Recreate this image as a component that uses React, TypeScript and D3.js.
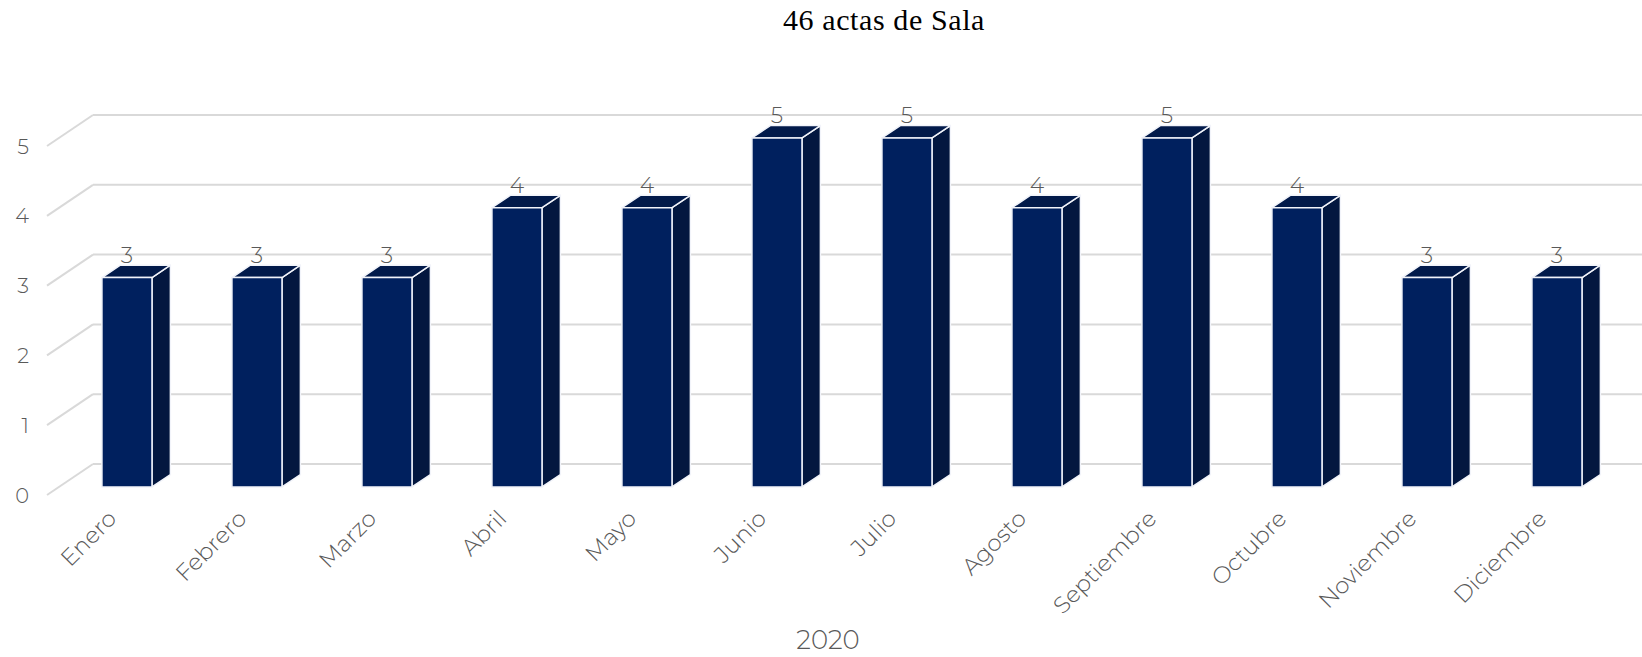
import { useRef, useEffect } from 'react';
import * as d3 from 'd3';

const MONTHS = ['Enero', 'Febrero', 'Marzo', 'Abril', 'Mayo', 'Junio', 'Julio', 'Agosto', 'Septiembre', 'Octubre', 'Noviembre', 'Diciembre'];
const ACTAS = [3, 3, 3, 4, 4, 5, 5, 4, 5, 4, 3, 3];
const Y_TICKS = [0, 1, 2, 3, 4, 5];
const TITLE = '46 actas de Sala';
const X_TITLE = '2020';

const W = 1642;
const H = 657;
// full floor depth offset (front plane -> back wall)
const DX = 46;
const DY = 31;
// bar sits between these depth fractions
const D_FRONT = 0.26;
const D_BACK = 0.66;

const FONT = "Montserrat, 'Open Sans', Lato, sans-serif";

export default function App() {
  const ref = useRef<SVGSVGElement | null>(null);

  useEffect(() => {
    const svg = d3.select(ref.current);
    svg.selectAll('*').remove();

    const x = d3.scaleBand<string>().domain(MONTHS).range([50, 1610]).paddingInner(0.615).paddingOuter(0.3075);
    const y = d3.scaleLinear().domain([0, 5]).range([495, 146]);

    const frontX = 47;
    const backX = frontX + DX;

    // Title
    svg.append('text')
      .attr('x', 884).attr('y', 30)
      .attr('text-anchor', 'middle')
      .attr('font-family', "'Liberation Serif', 'DejaVu Serif', serif")
      .attr('font-size', 30).attr('letter-spacing', 0.6).attr('fill', '#000')
      .text(TITLE);

    // Back wall gridlines + floor diagonals
    const grid = svg.append('g').attr('stroke', '#d9d9d9').attr('stroke-width', 2).attr('fill', 'none');
    grid.selectAll('line.h').data(Y_TICKS).join('line').attr('class', 'h')
      .attr('x1', backX).attr('x2', W)
      .attr('y1', d => y(d) - DY).attr('y2', d => y(d) - DY);
    grid.selectAll('line.d').data(Y_TICKS).join('line').attr('class', 'd')
      .attr('x1', frontX).attr('x2', backX)
      .attr('y1', d => y(d)).attr('y2', d => y(d) - DY);

    // Y tick labels
    svg.append('g').selectAll('text').data(Y_TICKS).join('text')
      .attr('x', 29).attr('y', d => y(d)).attr('dy', '0.36em')
      .attr('text-anchor', 'end')
      .attr('font-family', FONT).attr('font-weight', 300)
      .attr('font-size', 21).attr('fill', '#595959')
      .text(d => d);

    // Bars
    const ddx = (D_BACK - D_FRONT) * DX;
    const ddy = (D_BACK - D_FRONT) * DY;
    const bars = MONTHS.map((m, i) => {
      const x0 = (x(m) as number) + D_FRONT * DX;
      const x1 = x0 + x.bandwidth();
      const yb = y(0) - D_FRONT * DY;
      const yt = y(ACTAS[i]) - D_FRONT * DY;
      return { m, v: ACTAS[i], x0, x1, yb, yt };
    });

    const bg = svg.append('g').attr('stroke', '#f2f4fa').attr('stroke-width', 1.5).attr('stroke-linejoin', 'round');
    bg.selectAll('path.side').data(bars).join('path').attr('class', 'side')
      .attr('fill', '#03173f')
      .attr('d', d => `M${d.x1},${d.yt}L${d.x1 + ddx},${d.yt - ddy}L${d.x1 + ddx},${d.yb - ddy}L${d.x1},${d.yb}Z`);
    bg.selectAll('path.top').data(bars).join('path').attr('class', 'top')
      .attr('fill', '#021a4a')
      .attr('d', d => `M${d.x0},${d.yt}L${d.x0 + ddx},${d.yt - ddy}L${d.x1 + ddx},${d.yt - ddy}L${d.x1},${d.yt}Z`);
    bg.selectAll('rect').data(bars).join('rect')
      .attr('fill', '#00205e')
      .attr('x', d => d.x0).attr('y', d => d.yt)
      .attr('width', d => d.x1 - d.x0).attr('height', d => d.yb - d.yt);

    // Value labels
    svg.append('g').selectAll('text').data(bars).join('text')
      .attr('x', d => (d.x0 + d.x1) / 2).attr('y', d => d.yt - 15)
      .attr('text-anchor', 'middle')
      .attr('font-family', FONT).attr('font-weight', 300)
      .attr('font-size', 22).attr('fill', '#595959')
      .text(d => d.v);

    // Category labels
    svg.append('g').selectAll('text').data(bars).join('text')
      .attr('transform', d => `translate(${(d.x0 + d.x1) / 2 - 9},${520}) rotate(-45)`)
      .attr('text-anchor', 'end')
      .attr('font-family', FONT).attr('font-weight', 300)
      .attr('font-size', 23).attr('fill', '#595959')
      .text(d => d.m);

    // Axis title
    svg.append('text')
      .attr('x', 828).attr('y', 649)
      .attr('text-anchor', 'middle')
      .attr('font-family', FONT).attr('font-weight', 300)
      .attr('font-size', 26).attr('fill', '#595959')
      .text(X_TITLE);
  }, []);

  return (
    <svg ref={ref} width={W} height={H} viewBox={`0 0 ${W} ${H}`}
      style={{ position: 'absolute', left: 0, top: 0, background: '#fff' }} />
  );
}
